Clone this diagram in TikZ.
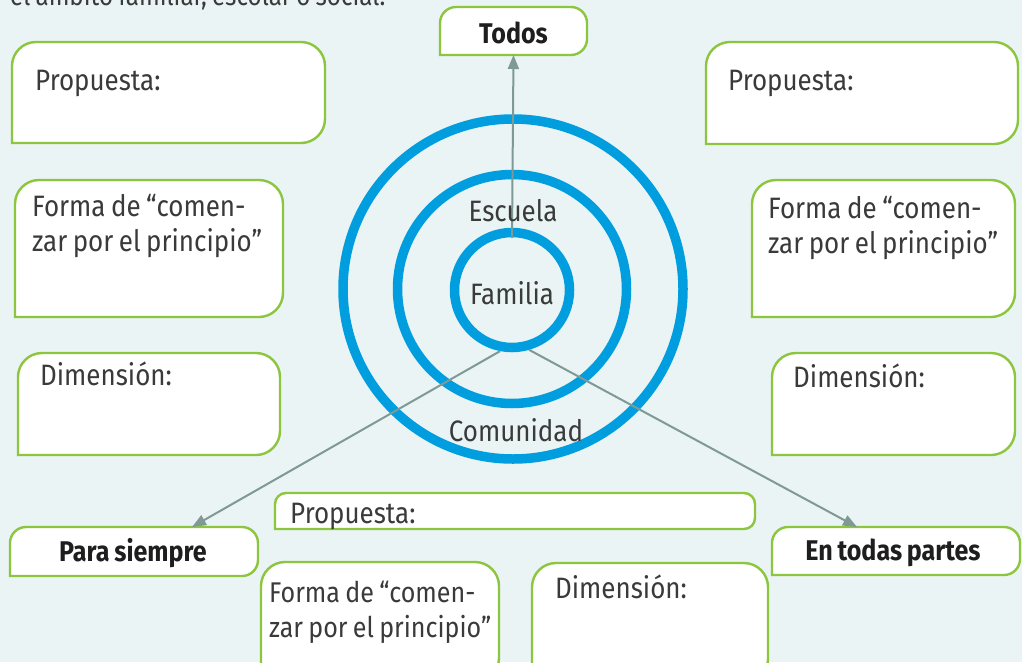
\documentclass[tikz,border=0pt]{standalone}
\usepackage{fontspec}
\setmainfont{Fira Sans}[FakeStretch=0.88,WordSpace=0.8]
\usetikzlibrary{arrows.meta,calc}
\definecolor{bgc}{HTML}{EAF4F4}
\definecolor{gborder}{HTML}{8CC63E}
\definecolor{ringc}{HTML}{009EDF}
\definecolor{arrc}{HTML}{7F9995}
\definecolor{txtc}{HTML}{3A3A3A}
\definecolor{boldc}{HTML}{1E1E1E}
\pgfdeclarelayer{back}
\pgfdeclarelayer{mid}
\pgfsetlayers{back,mid,main}
\tikzset{
  gbox/.style={draw=none,inner sep=0pt,outer sep=0pt,anchor=north west},
  gline/.style={draw=gborder,line width=2.4pt,fill=white},
  txt/.style={inner sep=0pt,text=txtc,font=\fontsize{29.5}{35}\selectfont,align=left},
  btxt/.style={inner sep=0pt,text=boldc,font=\fontsize{28.5}{30}\selectfont\bfseries},
  ring/.style={circle,draw=ringc,line width=9.5pt,inner sep=0pt},
  conn/.style={draw=arrc,line width=2pt,-{Triangle[length=14pt,width=11pt]}},
}
\newcommand\greenshape[2]{%
  \begin{pgfonlayer}{mid}
  \draw[gline] (#1.south west) -- ([yshift=-#2pt]#1.north west)
    arc[start angle=180,end angle=90,radius=#2pt]
    -- ([xshift=-#2pt]#1.north east)
    arc[start angle=90,end angle=0,radius=#2pt]
    -- ([yshift=#2pt]#1.south east)
    arc[start angle=0,end angle=-90,radius=#2pt]
    -- cycle;
  \end{pgfonlayer}}
\begin{document}
\begin{tikzpicture}[x=1pt,y=-1pt]
\begin{pgfonlayer}{back}
\fill[bgc] (0,0) rectangle (1022,662);
\end{pgfonlayer}
\useasboundingbox (0,0) rectangle (1022,662);
\clip (0,0) rectangle (1022,662);

% heading line, cut at the top as in the reference
\node[txt,anchor=base west,font=\fontsize{27.5}{35}\selectfont] (head) at (10,5) {el ámbito familiar, escolar o social.};

% rings
\node[ring,minimum size=340pt] (com) at (513,289) {};
\node[ring,minimum size=229pt] (esc) at (512,289) {};
\node[ring,minimum size=115pt] (fam) at (512,290) {};

% boxes
\node[gbox,minimum width=147pt,minimum height=48pt] (todos) at (440,7) {};
\node[btxt] (todost) at ($(todos.center)+(0,2)$) {Todos};
\greenshape{todos}{16}

\node[gbox,minimum width=313pt,minimum height=101pt] (lprop) at (12,42) {};
\node[txt,anchor=base west] (lpropt) at (35,90) {Propuesta:};
\greenshape{lprop}{24}

\node[gbox,minimum width=312pt,minimum height=102pt] (rprop) at (706,42) {};
\node[txt,anchor=base west] (rpropt) at (728,90) {Propuesta:};
\greenshape{rprop}{24}

\node[gbox,minimum width=268pt,minimum height=137pt] (lforma) at (15,180) {};
\node[txt,anchor=base west] (lformat) at (32,251) {Forma de “comen-\\zar por el principio”};
\greenshape{lforma}{24}

\node[gbox,minimum width=263pt,minimum height=137pt] (rforma) at (752,180) {};
\node[txt,anchor=base west] (rformat) at (768,253) {Forma de “comen-\\zar por el principio”};
\greenshape{rforma}{24}

\node[gbox,minimum width=262pt,minimum height=102pt] (ldim) at (18,353) {};
\node[txt,anchor=base west] (ldimt) at (40,385) {Dimensión:};
\greenshape{ldim}{24}

\node[gbox,minimum width=243pt,minimum height=102pt] (rdim) at (772,353) {};
\node[txt,anchor=base west] (rdimt) at (793,387) {Dimensión:};
\greenshape{rdim}{24}

\node[gbox,minimum width=480pt,minimum height=36pt] (bprop) at (275,493) {};
\node[txt,anchor=base west] (bpropt) at (290,523) {Propuesta:};
\greenshape{bprop}{11}

\node[gbox,minimum width=248pt,minimum height=49pt] (psiem) at (10,527) {};
\node[btxt] (psiemt) at ($(psiem.center)+(-1,2)$) {Para siempre};
\greenshape{psiem}{16}

\node[gbox,minimum width=248pt,minimum height=48pt] (etp) at (772,527) {};
\node[btxt] (etpt) at ($(etp.center)+(-3,2)$) {En todas partes};
\greenshape{etp}{16}

\node[gbox,minimum width=238pt,minimum height=120pt] (bforma) at (261,562) {};
\node[txt,anchor=base west,font=\fontsize{28.5}{35}\selectfont] (bformat) at (269,637) {Forma de “comen-\\zar por el principio”};
\greenshape{bforma}{24}

\node[gbox,minimum width=236pt,minimum height=120pt] (bdim) at (532,563) {};
\node[txt,anchor=base west] (bdimt) at (555,598) {Dimensión:};
\greenshape{bdim}{24}

% connectors
\coordinate (vstart) at ([yshift=-10pt]fam.north);
\coordinate (psend) at ([xshift=58pt]psiem.north);
\coordinate (etpend) at ([xshift=-39pt]etp.north);
\draw[conn] (vstart) -- (todos.south);
\draw[conn] (fam.259) -- (psend);
\draw[conn] (fam.286) -- (etpend);

% ring labels
\node[txt] (esct) at (513,211) {Escuela};
\node[txt] (famt) at (512,293) {Familia};
\node[txt] (comt) at (516,430) {Comunidad};
\end{tikzpicture}
\end{document}
